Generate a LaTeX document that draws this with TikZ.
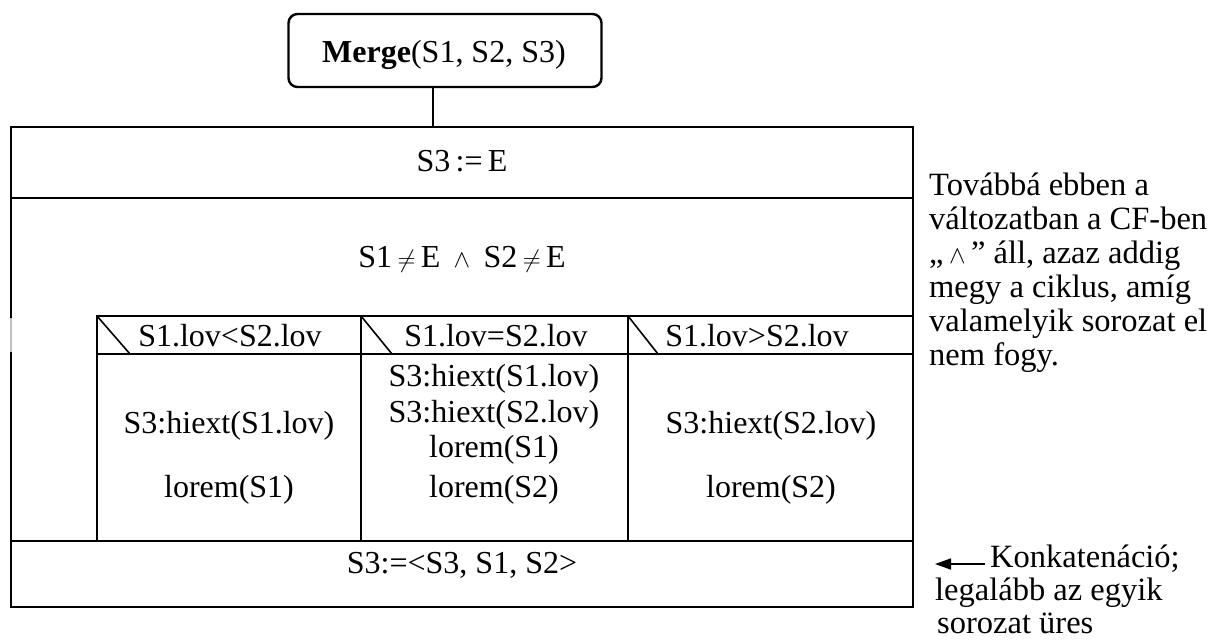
\documentclass[tikz,border=0pt]{standalone}
\usepackage{fontspec}
\setmainfont{Liberation Serif}
\usetikzlibrary{arrows.meta}
\begin{document}
\begin{tikzpicture}[x=1pt,y=-1pt,
  frame/.style={draw=black,line width=2.4pt},
  diag/.style={draw=black,line width=1.6pt},
  txt/.style={anchor=base,inner sep=0pt,font=\fontsize{32}{34}\selectfont},
  ltxt/.style={anchor=base west,inner sep=0pt,font=\fontsize{32.5}{34}\selectfont}]
\useasboundingbox (0,0) rectangle (1212,641);
% header box
\node[frame,rounded corners=9pt,minimum width=313pt,minimum height=73pt,inner sep=0pt] (merge) at (445,50.5) {};
\node[txt] (mergetxt) at (444,62) {\textbf{Merge}(S1, S2, S3)};
\coordinate (topin) at (433,127);
\draw[frame] (merge.south -| topin) -- (topin);
% structogram frame
\draw[frame] (11,127) rectangle (913,607);
\draw[frame] (11,198) -- (913,198);
\draw[frame] (11,541) -- (913,541);
\draw[frame] (97,316) rectangle (913,541);
\draw[frame] (97,354) -- (913,354);
\draw[frame] (361,316) -- (361,541);
\draw[frame] (628,316) -- (628,541);
\draw[draw=black!25,line width=2.6pt] (11,318) -- (11,352);
% diagonals
\draw[diag] (97,316) -- (130,354);
\draw[diag] (361,316) -- (392,354);
\draw[diag] (628,316) -- (658,354);
% texts
\node[txt] (init) at (462,171) {S3\,:=\,E};
\node[txt] (cond) at (462,267) {S1\,$\neq$\,E \,$\wedge$\, S2\,$\neq$\,E};
\node[txt] (h1) at (230,346) {S1.lov<S2.lov};
\node[txt] (h2) at (496,346) {S1.lov=S2.lov};
\node[txt] (h3) at (757,346) {S1.lov>S2.lov};
\node[txt] (a1) at (229,433) {S3:hiext(S1.lov)};
\node[txt] (a2) at (229,497) {lorem(S1)};
\node[txt] (b1) at (494,386) {S3:hiext(S1.lov)};
\node[txt] (b2) at (494,422) {S3:hiext(S2.lov)};
\node[txt] (b3) at (494,457) {lorem(S1)};
\node[txt] (b4) at (494,497) {lorem(S2)};
\node[txt] (c1) at (771,433) {S3:hiext(S2.lov)};
\node[txt] (c2) at (771,497) {lorem(S2)};
\node[txt] (concat) at (462,573) {S3:=<S3, S1, S2>};
% right notes
\node[ltxt] (n1) at (929,195) {Továbbá ebben a};
\node[ltxt] (n2) at (929,229) {változatban a CF-ben};
\node[ltxt] (n3) at (929,263) {„\,$\wedge$\,” áll, azaz addig};
\node[ltxt] (n4) at (929,297) {megy a ciklus, amíg};
\node[ltxt] (n5) at (929,331) {valamelyik sorozat el};
\node[ltxt] (n6) at (929,365) {nem fogy.};
\node[ltxt] (k1) at (990,567) {Konkatenáció;};
\node[ltxt] (k2) at (935,600) {legalább az egyik};
\node[ltxt] (k3) at (937,633) {sorozat üres};
\coordinate (arrend) at (935,564);
\draw[line width=1.8pt,-{Triangle[length=16pt,width=11pt]}] ([shift={(-5,-3)}]k1.base west) -- (arrend);
\end{tikzpicture}
\end{document}
